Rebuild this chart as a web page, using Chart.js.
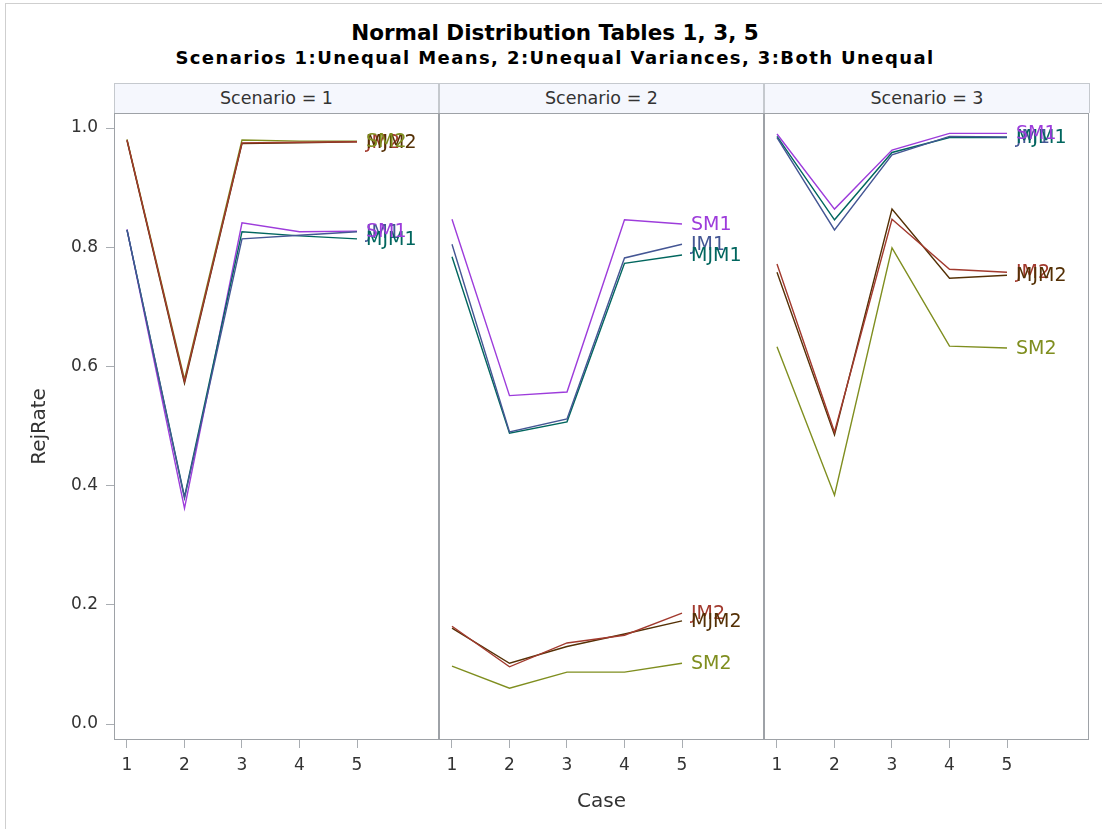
<!DOCTYPE html>
<html>
<head>
<meta charset="utf-8">
<script src="https://cdn.jsdelivr.net/npm/chart.js@4/dist/chart.umd.min.js"></script>
<style>
    body { margin: 0; background: #fff; font-family: "DejaVu Sans", sans-serif; }
    #page { position: relative; width: 1102px; height: 829px; overflow: hidden; }
    #frame { position: absolute; left: 5px; top: 3px; width: 1200px; height: 900px; border-left: 1px solid #cfcfcf; border-top: 1px solid #cfcfcf; }
    .title { position: absolute; left: 0; width: 1110px; text-align: center; color: #000; white-space: nowrap; }
    #t1 { top: 20px; font: bold 21.5px "DejaVu Sans", sans-serif; }
    #t2 { top: 47px; font: bold 18px "DejaVu Sans", sans-serif; letter-spacing: 1.4px; }
    .head { position: absolute; top: 83px; height: 30px; box-sizing: border-box; border: 1px solid #c5c9ce; border-bottom: none;
            background: #f5f7fd; text-align: center; font: 17.5px "DejaVu Sans", sans-serif; color: #333; line-height: 29px; }
    .panel { position: absolute; top: 113px; height: 716px; }
</style>
</head>
<body>
<div id="page">
    <div id="frame"></div>
    <div class="title" id="t1">Normal Distribution Tables 1, 3, 5</div>
    <div class="title" id="t2">Scenarios 1:Unequal Means, 2:Unequal Variances, 3:Both Unequal</div>
    <div class="head" style="left:114px;width:325px">Scenario = 1</div>
    <div class="head" style="left:439px;width:325px">Scenario = 2</div>
    <div class="head" style="left:764px;width:326px">Scenario = 3</div>
    <div class="panel" style="left:0;width:439px"><canvas id="c1"></canvas></div>
    <div class="panel" style="left:439px;width:325px"><canvas id="c2"></canvas></div>
    <div class="panel" style="left:764px;width:325px"><canvas id="c3"></canvas></div>
</div>
<script>
const cases = [1, 2, 3, 4, 5];
const seriesNames = ['JM1', 'JM2', 'MJM1', 'MJM2', 'SM1', 'SM2'];
const seriesColors = ['#445694', '#A23A2E', '#01665E', '#543005', '#9D3CDB', '#7F8E1F'];
const yTicks = [0, 0.2, 0.4, 0.6, 0.8, 1.0];

// Scenario 1: unequal means
const sc1JM1  = [0.829, 0.379, 0.814, 0.820, 0.826];
const sc1JM2  = [0.980, 0.575, 0.975, 0.976, 0.977];
const sc1MJM1 = [0.829, 0.381, 0.826, 0.819, 0.814];
const sc1MJM2 = [0.979, 0.572, 0.974, 0.975, 0.977];
const sc1SM1  = [0.830, 0.362, 0.841, 0.826, 0.827];
const sc1SM2  = [0.981, 0.578, 0.980, 0.978, 0.978];

// Scenario 2: unequal variances
const sc2JM1  = [0.805, 0.490, 0.512, 0.782, 0.805];
const sc2JM2  = [0.164, 0.096, 0.136, 0.149, 0.186];
const sc2MJM1 = [0.784, 0.488, 0.507, 0.773, 0.787];
const sc2MJM2 = [0.161, 0.102, 0.130, 0.151, 0.173];
const sc2SM1  = [0.847, 0.551, 0.557, 0.846, 0.839];
const sc2SM2  = [0.097, 0.060, 0.087, 0.087, 0.102];

// Scenario 3: both unequal
const sc3JM1  = [0.984, 0.829, 0.955, 0.986, 0.985];
const sc3JM2  = [0.772, 0.490, 0.847, 0.763, 0.758];
const sc3MJM1 = [0.986, 0.846, 0.959, 0.984, 0.984];
const sc3MJM2 = [0.758, 0.485, 0.864, 0.748, 0.753];
const sc3SM1  = [0.990, 0.864, 0.963, 0.991, 0.991];
const sc3SM2  = [0.633, 0.384, 0.799, 0.634, 0.631];

const scenarios = [
    [sc1JM1, sc1JM2, sc1MJM1, sc1MJM2, sc1SM1, sc1SM2],
    [sc2JM1, sc2JM2, sc2MJM1, sc2MJM2, sc2SM1, sc2SM2],
    [sc3JM1, sc3JM2, sc3MJM1, sc3MJM2, sc3SM1, sc3SM2]
];

// frame around each plot area
const framePlugin = {
    id: 'frame',
    afterDraw(chart) {
        const a = chart.chartArea;
        const ctx = chart.ctx;
        ctx.save();
        ctx.strokeStyle = '#9ea2a7';
        ctx.lineWidth = 1;
        ctx.strokeRect(a.left + 0.5, a.top + 0.5, a.right - a.left - 1, a.bottom - a.top - 1);
        ctx.restore();
    }
};

// series name at the end of each line
const endLabelPlugin = {
    id: 'endLabels',
    afterDatasetsDraw(chart) {
        const ctx = chart.ctx;
        ctx.save();
        ctx.font = '19px "DejaVu Sans"';
        ctx.textBaseline = 'middle';
        ctx.textAlign = 'left';
        chart.data.datasets.forEach(function (ds, i) {
            const pts = chart.getDatasetMeta(i).data;
            const last = pts[pts.length - 1];
            ctx.fillStyle = ds.borderColor;
            ctx.fillText(ds.label, last.x + 9, last.y + 1);
        });
        ctx.restore();
    }
};

function makeChart(id, values, first, middle) {
    const datasets = values.map(function (arr, i) {
        return {
            label: seriesNames[i],
            data: arr.map(function (v, j) { return { x: cases[j], y: v }; }),
            borderColor: seriesColors[i],
            borderWidth: 1.4,
            pointRadius: 0,
            tension: 0,
            fill: false
        };
    });
    const ctx = document.getElementById(id).getContext('2d');
    return new Chart(ctx, {
        type: 'line',
        data: { datasets: datasets },
        plugins: [framePlugin, endLabelPlugin],
        options: {
            responsive: true,
            maintainAspectRatio: false,
            animation: false,
            layout: { padding: 0 },
            plugins: { legend: { display: false }, tooltip: { enabled: false } },
            scales: {
                x: {
                    type: 'linear',
                    min: 0.774,
                    max: 6.426,
                    afterBuildTicks: function (scale) {
                        scale.ticks = cases.map(function (c) { return { value: c }; });
                    },
                    afterFit: function (scale) {
                        scale.height = 89;
                        scale.paddingLeft = 0;
                        scale.paddingRight = 0;
                    },
                    grid: { drawOnChartArea: false, drawTicks: true, tickLength: 8, color: '#a9adb2' },
                    border: { display: false },
                    ticks: {
                        padding: 7,
                        color: '#333',
                        font: { family: 'DejaVu Sans', size: 17 },
                        callback: function (v) { return String(v); }
                    },
                    title: {
                        display: middle,
                        text: 'Case',
                        color: '#333',
                        font: { family: 'DejaVu Sans', size: 20 },
                        padding: { top: 4, bottom: 15 }
                    }
                },
                y: {
                    type: 'linear',
                    display: first,
                    min: -0.0268,
                    max: 1.0252,
                    afterBuildTicks: function (scale) {
                        scale.ticks = yTicks.map(function (v) { return { value: v }; });
                    },
                    afterFit: function (scale) {
                        if (first) scale.width = 114;
                        scale.paddingTop = 0;
                        scale.paddingBottom = 0;
                    },
                    grid: { drawOnChartArea: false, drawTicks: true, tickLength: 8, color: '#a9adb2' },
                    border: { display: false },
                    ticks: {
                        padding: 8,
                        color: '#333',
                        font: { family: 'DejaVu Sans', size: 17 },
                        callback: function (v) { return v.toFixed(1); }
                    },
                    title: {
                        display: true,
                        text: 'RejRate',
                        color: '#333',
                        font: { family: 'DejaVu Sans', size: 20 },
                        padding: { top: 28, bottom: 4 }
                    }
                }
            }
        }
    });
}

makeChart('c1', scenarios[0], true, false);
makeChart('c2', scenarios[1], false, true);
makeChart('c3', scenarios[2], false, false);
</script>
</body>
</html>
